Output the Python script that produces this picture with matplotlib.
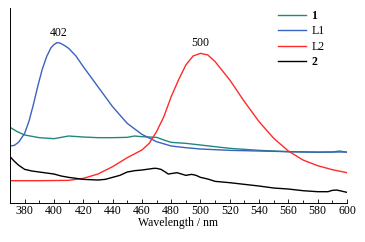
import numpy as np
import matplotlib
matplotlib.use("Agg")
import matplotlib.pyplot as plt
from matplotlib.ticker import MultipleLocator

plt.rcParams['font.family'] = ['Liberation Serif', 'DejaVu Serif']

# Emission spectra (arbitrary intensity units)
x_1 = [370, 375, 380, 390, 400, 405, 410, 420, 430, 440, 450, 455, 460, 470, 475, 480,
       490, 500, 510, 520, 530, 540, 560, 580, 590, 595, 600]
y_1 = [226, 213, 203, 195, 192, 196, 200, 197, 195, 195, 196, 200, 198, 196, 188, 181,
       178, 173, 168, 163, 160, 157, 153, 151, 152, 155, 151]

x_L1 = [370, 373, 376, 380, 383, 386, 389, 392, 395, 398, 400, 402, 404, 407, 410, 415,
        420, 430, 440, 450, 460, 470, 480, 490, 500, 520, 540, 560, 580, 600]
y_L1 = [170, 172, 182, 208, 245, 295, 350, 400, 438, 465, 474, 480, 479, 472, 463, 440,
        408, 348, 288, 238, 205, 183, 170, 165, 161, 157, 155, 153, 152, 152]

x_L2 = [370, 390, 410, 420, 430, 440, 450, 460, 465, 470, 475, 480, 485, 490, 495, 500,
        505, 510, 520, 530, 540, 550, 560, 570, 580, 590, 600]
y_L2 = [66, 66, 67, 73, 86, 108, 135, 158, 178, 213, 258, 318, 368, 413, 440, 448,
        443, 423, 368, 303, 243, 193, 155, 128, 111, 99, 90]

x_2 = [370, 373, 376, 380, 385, 390, 395, 400, 405, 410, 415, 420, 425, 430, 435, 440,
       445, 450, 455, 460, 465, 468, 470, 473, 476, 478, 481, 484, 487, 490, 494, 497,
       500, 505, 510, 515, 520, 530, 540, 550, 560, 570, 580, 587, 590, 593, 596, 600]
y_2 = [138, 124, 112, 100, 95, 92, 89, 86, 80, 76, 73, 70, 69, 68, 70, 76,
       82, 92, 96, 98, 101, 103, 103, 100, 92, 86, 88, 90, 86, 82, 85, 82,
       76, 71, 64, 62, 60, 55, 50, 44, 41, 36, 33, 33, 37, 38, 35, 31]

peaks = [(403, 480, "402"), (500, 448, "500")]

fig = plt.figure(figsize=(3.65, 2.42), dpi=100)
ax = fig.add_axes([10 / 365, 39.3 / 242, 337 / 365, 194.4 / 242])

ax.plot(x_1, y_1, color="#22877f", lw=1.0, label="1")
ax.plot(x_L1, y_L1, color="#3a62bf", lw=1.0, label="L1")
ax.plot(x_L2, y_L2, color="#ff2a2a", lw=1.0, label="L2")
ax.plot(x_2, y_2, color="black", lw=1.0, label="2")

for px, py, txt in peaks:
    ax.text(px, py + 12, txt, ha="center", va="bottom", fontsize=8.5)

ax.set_xlim(370, 600)
ax.set_ylim(0, 583)
ax.xaxis.set_major_locator(MultipleLocator(20))
ax.xaxis.set_minor_locator(MultipleLocator(10))
ax.tick_params(axis="x", which="both", direction="in", labelsize=8.5, pad=2)
ax.tick_params(axis="x", which="major", length=3, width=0.6)
ax.tick_params(axis="x", which="minor", length=2, width=0.6)
ax.set_yticks([])
ax.spines["top"].set_visible(False)
ax.spines["right"].set_visible(False)
ax.spines["left"].set_linewidth(0.7)
ax.spines["bottom"].set_linewidth(0.7)
ax.set_xlabel("Wavelength / nm", fontsize=8.5, labelpad=0)

leg = ax.legend(loc="upper right", bbox_to_anchor=(0.965, 1.045), frameon=False,
                fontsize=8.5, handlelength=2.3, labelspacing=0.28, handletextpad=0.5)
for t in leg.get_texts():
    if t.get_text() in ("1", "2"):
        t.set_fontweight("bold")

fig.savefig("out.png", dpi=100)
